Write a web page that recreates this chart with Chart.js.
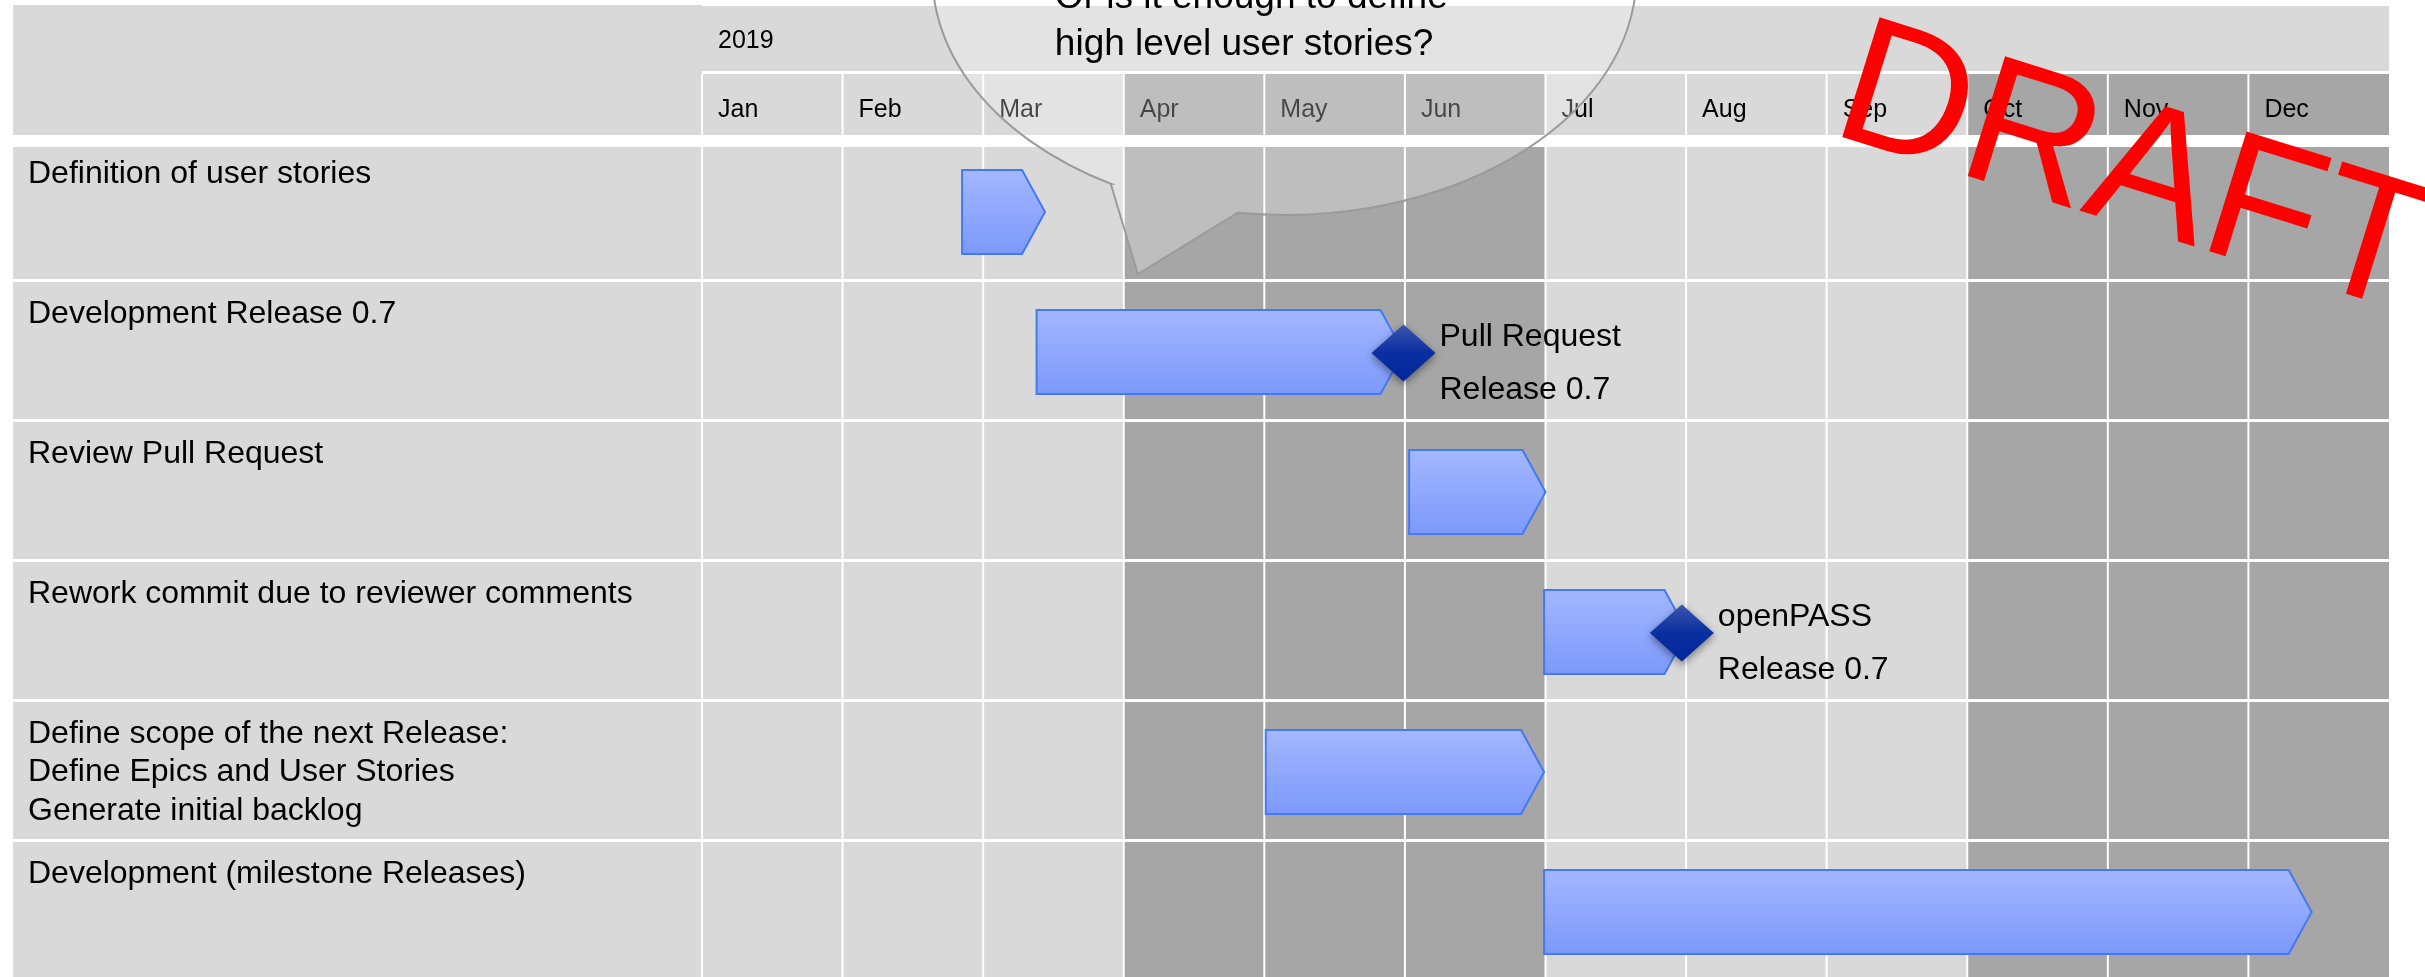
<!DOCTYPE html>
<html>
<head>
<meta charset="utf-8">
<title>Release plan 2019</title>
<script src="https://cdn.jsdelivr.net/npm/chart.js@4.4.1/dist/chart.umd.min.js"></script>
<style>
    html, body { margin: 0; padding: 0; background: #fff; overflow: hidden; }
    canvas { display: block; }
</style>
</head>
<body>
<canvas id="chart" width="2425" height="980"></canvas>
<script>
// ---------------- DATA ----------------
const year = "2019";
const months = ["Jan", "Feb", "Mar", "Apr", "May", "Jun", "Jul", "Aug", "Sep", "Oct", "Nov", "Dec"];

const tasks = [
    ["Definition of user stories"],
    ["Development Release 0.7"],
    ["Review Pull Request"],
    ["Rework commit due to reviewer comments"],
    ["Define scope of the next Release:", "Define Epics and User Stories", "Generate initial backlog"],
    ["Development (milestone Releases)"]
];
// in months from 1 Jan (0 = start of Jan, 12 = end of Dec)
const taskStart = [1.85, 2.38, 5.03, 5.99, 4.01, 5.99];
const taskEnd   = [2.44, 4.99, 6.00, 7.01, 5.99, 11.45];

const milestoneTask  = [1, 3];
const milestoneMonth = [4.99, 6.97];
const milestoneText  = [["Pull Request", "Release 0.7"], ["openPASS", "Release 0.7"]];

const calloutText = ["Or is it enough to define", "high level user stories?"];
const watermark = "DRAFT";

const FONT = '"Liberation Sans", Arial, Helvetica, sans-serif';
const LIGHT = "#d9d9d9";
const DARK = "#a6a6a6";

// ---------------- BACKGROUND / GRID ----------------
function drawGrid(chart) {
    const { ctx, chartArea: a, scales: { x, y } } = chart;
    const band = (a.bottom - a.top) / tasks.length;
    const rowTop = 147;

    ctx.save();
    ctx.fillStyle = "#fff";
    ctx.fillRect(0, 0, chart.width, chart.height);

    // header blocks
    ctx.fillStyle = LIGHT;
    ctx.fillRect(13, 5, a.left - 13, 130);
    ctx.fillRect(a.left, 6, a.right - a.left, 65);

    // month columns (header + rows), quarters alternate light / dark
    for (let i = 0; i < months.length; i++) {
        const x0 = x.getPixelForValue(i);
        const x1 = x.getPixelForValue(i + 1);
        ctx.fillStyle = Math.floor(i / 3) % 2 ? DARK : LIGHT;
        ctx.fillRect(x0, 74, x1 - x0, 61);
        ctx.fillRect(x0, rowTop, x1 - x0, a.bottom - rowTop);
    }
    ctx.fillStyle = LIGHT;
    ctx.fillRect(13, rowTop, a.left - 13, a.bottom - rowTop);

    // white separators
    ctx.strokeStyle = "#fff";
    ctx.lineWidth = 2;
    ctx.beginPath();
    for (let i = 0; i < months.length; i++) {
        const px = x.getPixelForValue(i);
        ctx.moveTo(px, 74); ctx.lineTo(px, 135);
        ctx.moveTo(px, rowTop); ctx.lineTo(px, a.bottom);
    }
    ctx.stroke();
    ctx.lineWidth = 3;
    ctx.beginPath();
    for (let i = 0; i < tasks.length - 1; i++) {
        const py = y.getPixelForValue(i) + band / 2 + 0.5;
        ctx.moveTo(13, py); ctx.lineTo(a.right, py);
    }
    ctx.stroke();

    // header text
    ctx.fillStyle = "#000";
    ctx.textAlign = "left";
    ctx.textBaseline = "alphabetic";
    ctx.font = "25px " + FONT;
    ctx.fillText(year, a.left + 16, 48);
    months.forEach((m, i) => ctx.fillText(m, x.getPixelForValue(i) + 16, 117));

    // task labels, top aligned in each row
    ctx.font = "32px " + FONT;
    tasks.forEach((lines, i) => {
        const top = y.getPixelForValue(i) - band / 2;
        lines.forEach((t, k) => ctx.fillText(t, 28, top + 43 + k * 38.3));
    });
    ctx.restore();
}

// ---------------- BARS (arrow shapes) ----------------
function drawBars(chart, meta) {
    const ctx = chart.ctx;
    const d = 23;
    ctx.save();
    meta.data.forEach(el => {
        const { x, base, y, height } = el.getProps(["x", "base", "y", "height"], true);
        const left = Math.min(x, base), tip = Math.max(x, base);
        const top = y - height / 2 + 2, bot = y + height / 2 + 2;
        const mid = (top + bot) / 2;
        ctx.beginPath();
        ctx.moveTo(left, top);
        ctx.lineTo(tip - d, top);
        ctx.lineTo(tip, mid);
        ctx.lineTo(tip - d, bot);
        ctx.lineTo(left, bot);
        ctx.closePath();
        const g = ctx.createLinearGradient(0, top, 0, bot);
        g.addColorStop(0, "#a3b7ff");
        g.addColorStop(1, "#7c99fb");
        ctx.fillStyle = g;
        ctx.fill();
        ctx.strokeStyle = "#4479f2";
        ctx.lineWidth = 2;
        ctx.stroke();
    });
    ctx.restore();
}

// ---------------- MILESTONES ----------------
function drawMilestones(chart, meta) {
    const ctx = chart.ctx;
    const hw = 32, hh = 28.5;
    meta.data.forEach((el, i) => {
        const { x } = el.getProps(["x"], true);
        const y = el.getProps(["y"], true).y + 3;
        ctx.save();
        ctx.shadowColor = "rgba(0,0,0,0.45)";
        ctx.shadowBlur = 8;
        ctx.shadowOffsetY = 3;
        ctx.beginPath();
        ctx.moveTo(x, y - hh);
        ctx.lineTo(x + hw, y);
        ctx.lineTo(x, y + hh);
        ctx.lineTo(x - hw, y);
        ctx.closePath();
        const g = ctx.createLinearGradient(0, y - hh, 0, y + hh);
        g.addColorStop(0, "#3a55b0");
        g.addColorStop(0.5, "#0a2fa0");
        g.addColorStop(1, "#00269a");
        ctx.fillStyle = g;
        ctx.fill();
        ctx.restore();

        ctx.save();
        ctx.fillStyle = "#000";
        ctx.font = "32px " + FONT;
        ctx.textAlign = "left";
        ctx.fillText(milestoneText[i][0], x + 36, y - 7);
        ctx.fillText(milestoneText[i][1], x + 36, y + 46);
        ctx.restore();
    });
}

// ---------------- CALLOUT + WATERMARK ----------------
function drawOverlay(chart) {
    const { ctx, scales: { x } } = chart;
    const cx = x.getPixelForValue(4.143), cy = -25, rx = 352, ry = 240;
    const aRight = Math.atan2((213 - cy) / ry, (x.getPixelForValue(3.81) - cx) / rx);
    const aLeft = Math.atan2((183.3 - cy) / ry, (x.getPixelForValue(2.91) - cx) / rx);

    ctx.save();
    ctx.beginPath();
    ctx.moveTo(cx + rx * Math.cos(aLeft), cy + ry * Math.sin(aLeft));
    ctx.lineTo(x.getPixelForValue(3.10), 274);
    ctx.lineTo(cx + rx * Math.cos(aRight), cy + ry * Math.sin(aRight));
    ctx.ellipse(cx, cy, rx, ry, 0, aRight, aLeft, true);
    ctx.closePath();
    ctx.fillStyle = "rgba(255,255,255,0.28)";
    ctx.fill();
    ctx.strokeStyle = "#9b9b9b";
    ctx.lineWidth = 2;
    ctx.stroke();

    ctx.fillStyle = "#000";
    ctx.font = "37px " + FONT;
    ctx.textAlign = "left";
    calloutText.forEach((t, k) => ctx.fillText(t, x.getPixelForValue(2.51), 8 + k * 47));

    // DRAFT stamp
    ctx.translate(1828, 132.4);
    ctx.rotate(17.3 * Math.PI / 180);
    ctx.fillStyle = "#ff0000";
    ctx.font = "182px " + FONT;
    ctx.fillText(watermark, 0, 0);
    ctx.restore();
}

const ganttPlugin = {
    id: "gantt",
    beforeDraw: drawGrid,
    beforeDatasetDraw(chart, args) {
        if (args.meta.type === "bar") { drawBars(chart, args.meta); return false; }
        if (args.meta.type === "scatter") { drawMilestones(chart, args.meta); return false; }
    },
    afterDraw: drawOverlay
};

// ---------------- CHART ----------------
new Chart(document.getElementById("chart"), {
    type: "bar",
    data: {
        labels: tasks,
        datasets: [
            {
                type: "bar",
                xAxisID: "x",
                yAxisID: "y",
                data: tasks.map((t, i) => [taskStart[i], taskEnd[i]]),
                grouped: false,
                barPercentage: 0.6,
                categoryPercentage: 1,
                order: 2
            },
            {
                type: "scatter",
                xAxisID: "x",
                yAxisID: "ms",
                data: milestoneMonth.map((m, i) => ({ x: m, y: milestoneTask[i] })),
                pointRadius: 0,
                order: 1
            }
        ]
    },
    options: {
        indexAxis: "y",
        responsive: false,
        animation: false,
        devicePixelRatio: 1,
        layout: { padding: { left: 702, right: 36, top: 140, bottom: 0 } },
        scales: {
            x: { type: "linear", min: 0, max: 12, bounds: "data", offset: false, display: false },
            y: { type: "category", offset: true, display: false },
            // same rows as the category axis, as numbers, for the milestones
            ms: { type: "linear", axis: "y", min: -0.5, max: tasks.length - 0.5, bounds: "data", offset: false, reverse: true, display: false }
        },
        plugins: { legend: { display: false }, tooltip: { enabled: false } }
    },
    plugins: [ganttPlugin]
});
</script>
</body>
</html>
